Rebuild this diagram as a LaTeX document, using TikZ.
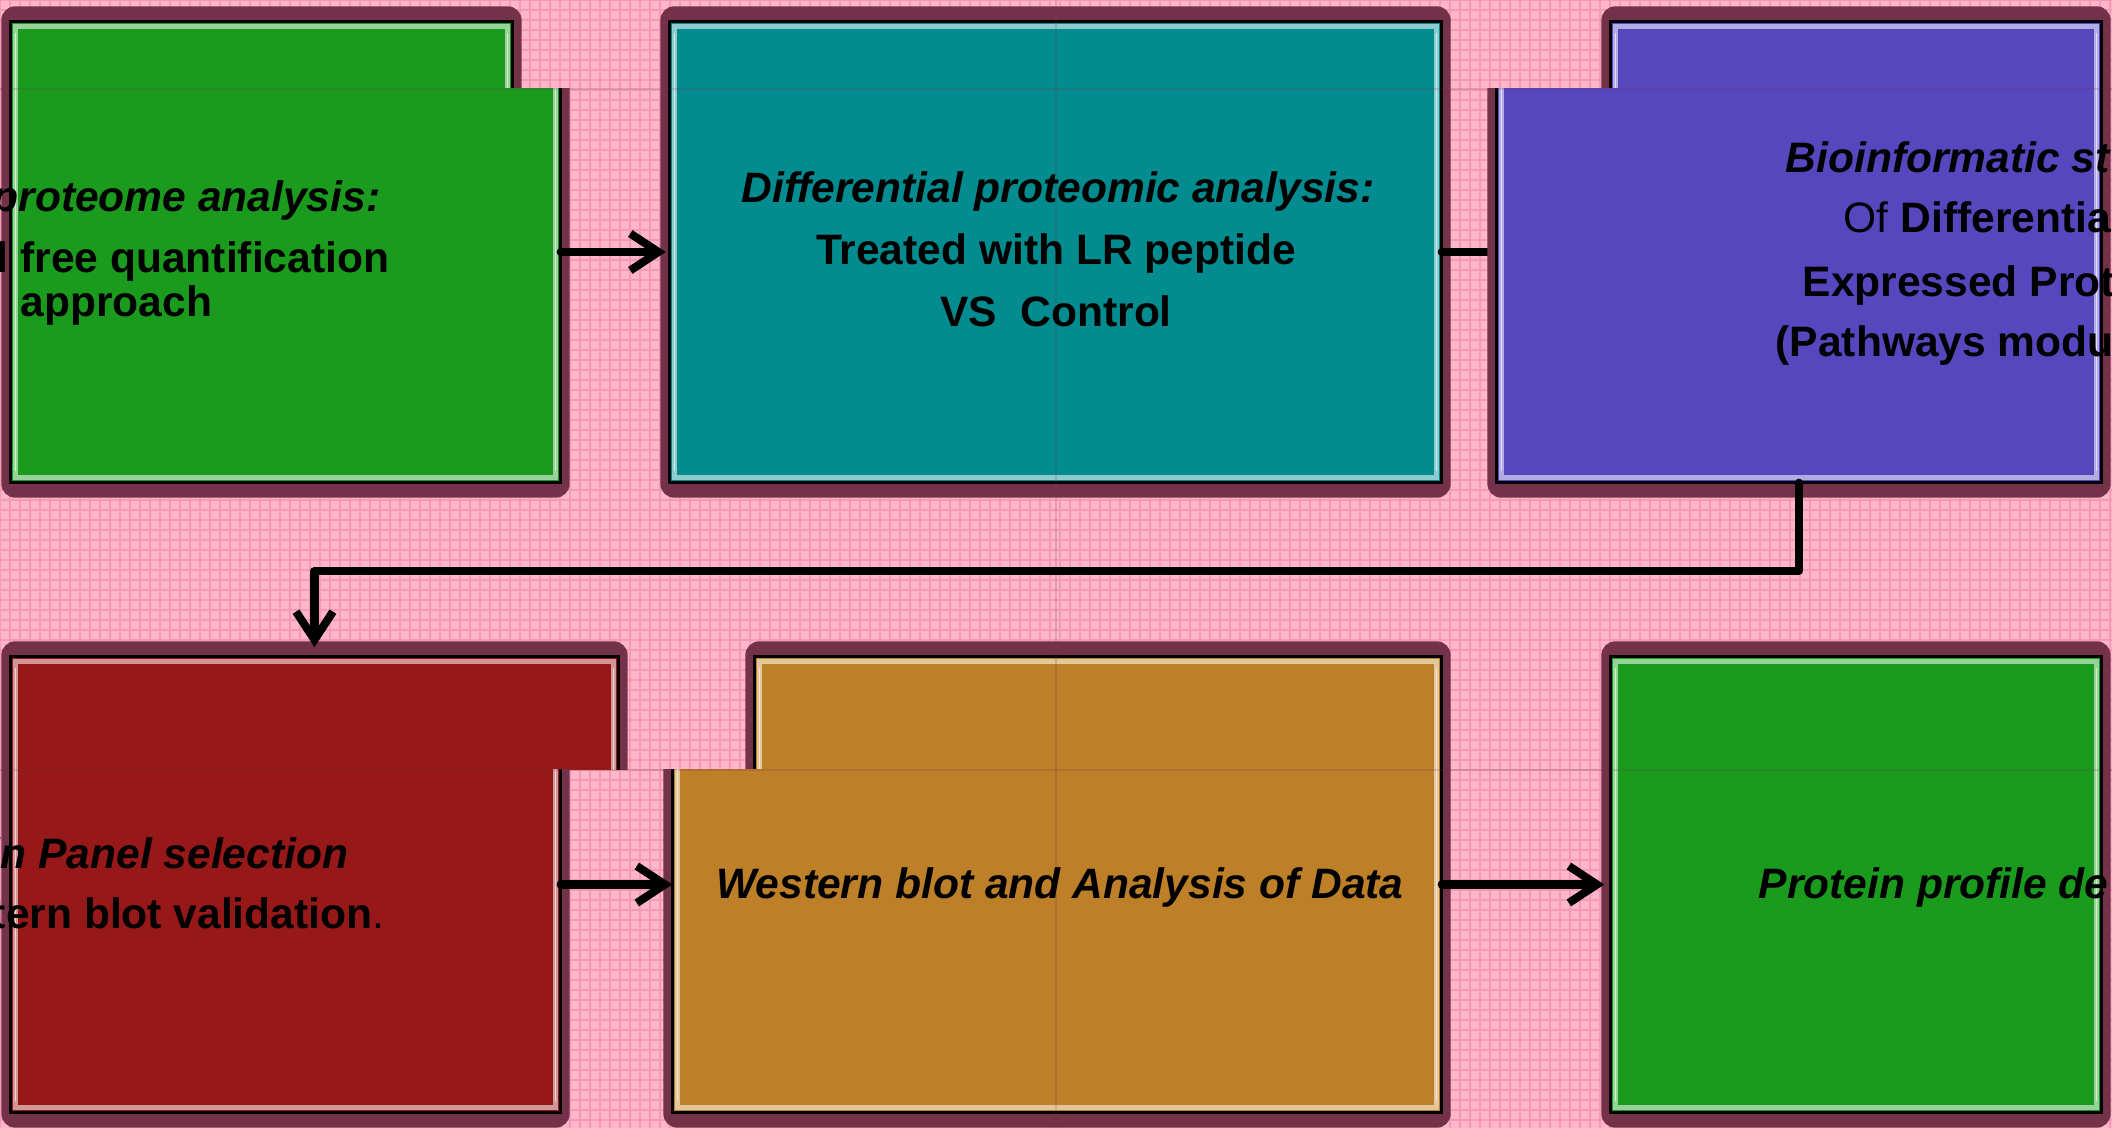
\documentclass[tikz,border=0pt]{standalone}
\usepackage{fontspec}
\setmainfont{Liberation Sans}
\usetikzlibrary{arrows.meta,fit}

\definecolor{bgpink}{HTML}{FFB6C9}
\definecolor{gridpink}{HTML}{F59AB5}
\definecolor{rim}{HTML}{733249}
\definecolor{pgreen}{HTML}{1A9B1E}
\definecolor{pteal}{HTML}{038C8F}
\definecolor{ppurple}{HTML}{5647BF}
\definecolor{pred}{HTML}{971818}
\definecolor{pgold}{HTML}{BD8028}

\tikzset{
    panel/.style={inner sep=0pt},
    lbl/.style={inner sep=0pt, font=\fontsize{12.1}{14}\selectfont\bfseries},
    lbli/.style={lbl, font=\fontsize{12.1}{14}\selectfont\bfseries\itshape},
    flow/.style={line width=2.3pt, line cap=round, line join=round,
        -{Straight Barb[length=8pt,width=10.5pt]}},
    gridline/.style={gridpink, line width=.35pt},
    seam/.style={rim, opacity=.18, line width=.3pt}
}

% boxed panel: frame, face, bevel
\newcommand{\drawpanel}[2]{%
    \fill[rim, rounded corners=4pt] ([shift={(-9,-15)}]#1.north west) rectangle ([shift={(9,15)}]#1.south east);
    \fill[#2] (#1.north west) rectangle (#1.south east);
    \draw[#2!45!white, line width=1.5pt] ([shift={(5,5)}]#1.north west) rectangle ([shift={(-5,-5)}]#1.south east);
    \draw[white, opacity=.6, line width=.4pt] ([shift={(5,12)}]#1.north west) -- ([shift={(5,-12)}]#1.south west);
    \draw[white, opacity=.6, line width=.4pt] ([shift={(-5,12)}]#1.north east) -- ([shift={(-5,-12)}]#1.south east);
    \draw[black, line width=.8pt] (#1.north west) rectangle (#1.south east);
}

\begin{document}
\begin{tikzpicture}[x=0.01cm, y=-0.01cm]
\useasboundingbox (0,0) rectangle (2112,1128);
\clip (0,0) rectangle (2112,1128);

% Background grid
\fill[bgpink] (0,0) rectangle (2112,1128);
\foreach \gx in {0,10,...,2110} {
    \draw[gridline] (\gx,0) -- (\gx,1128);
}
\foreach \gy in {0,10,...,1120} {
    \draw[gridline] (0,\gy) -- (2112,\gy);
}

% Panel outlines
\node[panel, fit={(11,22) (512,482)}] (g1A) {};
\node[panel, fit={(11,22) (560,482)}] (g1B) {};
\node[panel, fit={(670,22) (1441,482)}] (teal) {};
\node[panel, fit={(1611,22) (2101,482)}] (purA) {};
\node[panel, fit={(1497,22) (2101,482)}] (purB) {};
\node[panel, fit={(11,657) (618,1112)}] (redB) {};
\node[panel, fit={(11,657) (560,1112)}] (redC) {};
\node[panel, fit={(755,657) (1441,1112)}] (goldB) {};
\node[panel, fit={(673,657) (1441,1112)}] (goldC) {};
\node[panel, fit={(1611,657) (2101,1112)}] (g2) {};

\drawpanel{teal}{pteal}
\drawpanel{g2}{pgreen}

% Top strip
\begin{scope}
    \clip (0,0) rectangle (2112,89);
    \drawpanel{g1A}{pgreen}
    \drawpanel{purA}{ppurple}
\end{scope}

% Middle strip
\begin{scope}
    \clip (0,89) rectangle (2112,770);
    \drawpanel{g1B}{pgreen}
    \drawpanel{redB}{pred}
    \drawpanel{goldB}{pgold}
    \draw[flow] (teal.east) -- (purA.west);
    \drawpanel{purB}{ppurple}
\end{scope}

% Bottom strip
\begin{scope}
    \clip (0,770) rectangle (2112,1128);
    \drawpanel{redC}{pred}
    \drawpanel{goldC}{pgold}
\end{scope}

% Seams
\draw[seam] (0,89) -- (2112,89);
\draw[seam] (0,770) -- (2112,770);
\draw[seam] (1056,0) -- (1056,1128);

% Connectors
\draw[flow, shorten >=1pt] (g1B.east) -- (teal.west);
\draw[flow, shorten >=2.6pt] (purB.south) -- ++(0,88) -| (redB.north);
\draw[flow] (redC.east) -- (goldC.west);
\draw[flow, shorten >=1.7pt] (goldC.east) -- (g2.west);

% Labels
\node[lbli, anchor=base east] (g1l1) at (381,212) {proteome analysis:};
\node[lbl, anchor=base east] (g1l2) at (390,273) {l free quantification};
\node[lbl, anchor=base west] (g1l3) at (20,317) {approach};

\node[lbli, anchor=base] (tl1) at (1058,203) {Differential proteomic analysis:};
\node[lbl, anchor=base] (tl2) at (1056,265) {Treated with LR peptide};
\node[lbl, anchor=base] (tl3) at (1056,327) {VS\ \ Control};

\node[lbli, anchor=base west] (pl1) at (1785,173) {Bioinformatic st};
\node[lbl, anchor=base west] (pl2) at (1843,233) {{\mdseries Of} Differentia};
\node[lbl, anchor=base west] (pl3) at (1802,297) {Expressed Prot};
\node[lbl, anchor=base west] (pl4) at (1775,357) {(Pathways modu};

\node[lbli, anchor=base east] (rl1) at (349,868) {in Panel selection};
\node[lbl, anchor=base east] (rl2) at (385,928) {tern blot validation{\mdseries .}};

\node[lbli, anchor=base] (gl1) at (1060,898) {Western blot and Analysis of Data};

\node[lbli, anchor=base west] (g2l1) at (1758,898) {Protein profile de};

\end{tikzpicture}
\end{document}
